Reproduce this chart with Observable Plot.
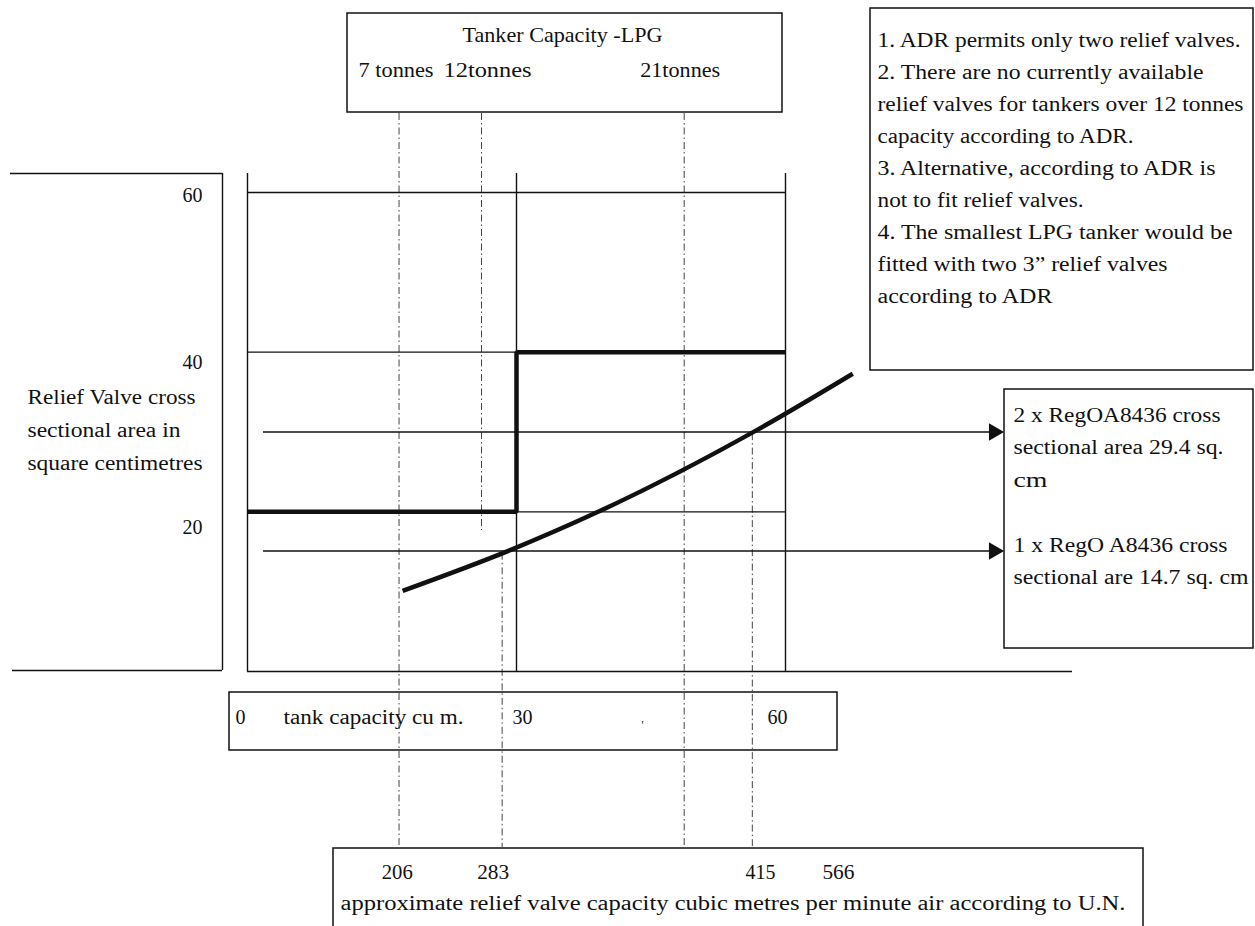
<!DOCTYPE html>
<html><head><meta charset="utf-8">
<script src="https://cdn.jsdelivr.net/npm/d3@7"></script>
<script src="https://cdn.jsdelivr.net/npm/@observablehq/plot@0.6"></script>
<style>
html,body{margin:0;padding:0;background:#fff;}
#chart{width:1255px;height:926px;overflow:hidden;}
</style>
</head><body><div id="chart"></div>
<script>
// ---------------- data ----------------
const areaTicks = [60, 40, 20];                       // sq cm
const capacityTicks = [0, 30, 60];                    // tank capacity cu m
const stepCapacity = [0, 30, 30, 60];                 // permitted valve area step
const stepArea = [20, 20, 40, 40];
const curveCapacity = [17.3, 29.3, 39.1, 56.9, 67.5]; // required area curve
const curveArea = [10.1, 15.2, 20.0, 30.3, 37.3];
const tonnageLabels = ["7 tonnes", "12tonnes", "21tonnes"];
const tonnageCapacity = [16.9, 26.1, 48.7];
const valveLabels = ["206", "283", "415", "566"];
const valveLabelCapacity = [16.7, 27.4, 57.2, 65.9];
const valveLineCapacity = [28.4, 56.3];
const valveLineArea = [14.8, 29.8];
const regoArea = [30.0, 15.1];
const regoText = ["2 x RegOA8436 cross", "sectional area 29.4 sq.", "cm", "", "1 x RegO A8436 cross", "sectional are 14.7 sq. cm"];
const notes = [
  "1. ADR permits only two relief valves.",
  "2. There are no currently available",
  "relief valves for tankers over 12 tonnes",
  "capacity according to ADR.",
  "3. Alternative, according to ADR is",
  "not to fit relief valves.",
  "4. The smallest LPG tanker would be",
  "fitted with two 3\u201D relief valves",
  "according to ADR"
];
const yTitle = ["Relief Valve cross", "sectional area in", "square centimetres"];
const topTitle = "Tanker Capacity -LPG";
const capacityTitle = "tank capacity cu m.";
const bottomTitle = "approximate relief valve capacity cubic metres per minute air according to U.N.";

// ---------------- layout ----------------
const W = 1255, H = 926;
const X0 = 247, X60 = 785, Y0 = 671, Y60 = 192;
const KX = (X60 - X0) / 60, KY = (Y0 - Y60) / 60;
const X = px => (px - X0) / KX;      // page pixel -> capacity units (layout helper)
const Y = py => (Y0 - py) / KY;      // page pixel -> area units (layout helper)
const ink = "#111";
const font = "Liberation Serif";

const boxes = [
  {x1: X(347), x2: X(782), y1: Y(13), y2: Y(112)},
  {x1: X(870), x2: X(1253), y1: Y(8), y2: Y(370)},
  {x1: X(1004), x2: X(1253), y1: Y(389), y2: Y(648)},
  {x1: X(229), x2: X(837), y1: Y(692), y2: Y(750)},
  {x1: X(333), x2: X(1143), y1: Y(848), y2: Y(940)}
];
const leftH = [{y: Y(173), x1: X(10), x2: X(222)}, {y: Y(670), x1: X(12), x2: X(222)}];
const leftV = [{x: X(222), y1: Y(173), y2: Y(670)}];
const tickLabelDy = {60: 3, 40: 10, 20: 16};
const capLabelDx = {0: -7, 30: 6, 60: -8};
const tonnageLabelDx = [-3, 6, -4];
const tonnageBottom = [Y(848), Y(530), Y(848)];

const steps = stepCapacity.map((c, i) => ({c, a: stepArea[i]}));
const curve = curveCapacity.map((c, i) => ({c, a: curveArea[i]}));

const widths = {
  "Tanker Capacity -LPG": 200, "7 tonnes": 75, "12tonnes": 88, "21tonnes": 80,
  "1. ADR permits only two relief valves.": 363,
  "2. There are no currently available": 326,
  "relief valves for tankers over 12 tonnes": 366,
  "capacity according to ADR.": 256,
  "3. Alternative, according to ADR is": 338,
  "not to fit relief valves.": 206,
  "4. The smallest LPG tanker would be": 355,
  "fitted with two 3\u201D relief valves": 290,
  "according to ADR": 175,
  "2 x RegOA8436 cross": 207, "sectional area 29.4 sq.": 210, "cm": 34,
  "1 x RegO A8436 cross": 214, "sectional are 14.7 sq. cm": 235,
  "Relief Valve cross": 168, "sectional area in": 153, "square centimetres": 175,
  "tank capacity cu m.": 180,
  "206": 31, "283": 32, "415": 30, "566": 32,
  "approximate relief valve capacity cubic metres per minute air according to U.N.": 785
};

const dash = {stroke: "#444", strokeWidth: 1, strokeDasharray: "7,3,1.5,3"};
const thin = {stroke: ink, strokeWidth: 1.4};
const txt = {fill: ink, fontFamily: font, fontSize: 20};

const chart = Plot.plot({
  width: W, height: H,
  marginTop: 0, marginRight: 0, marginBottom: 0, marginLeft: 0,
  style: {background: "#fff", fontFamily: font},
  x: {domain: [X(0), X(W)], range: [0, W], axis: null},
  y: {domain: [Y(H), Y(0)], range: [H, 0], axis: null},
  marks: [
    // boxes
    Plot.rect(boxes, {x1: "x1", x2: "x2", y1: "y1", y2: "y2", fill: "none", stroke: ink, strokeWidth: 1.5}),
    Plot.ruleY(leftH, {y: "y", x1: "x1", x2: "x2", ...thin}),
    Plot.ruleX(leftV, {x: "x", y1: "y1", y2: "y2", ...thin}),
    // dashed reference lines
    Plot.ruleX(tonnageCapacity, {x: d => d, y1: Y(113), y2: (d, i) => tonnageBottom[i], ...dash}),
    Plot.ruleX(valveLineCapacity, {x: d => d, y1: (d, i) => valveLineArea[i], y2: Y(848), ...dash}),
    // frame
    Plot.ruleX(capacityTicks, {x: d => d, y1: Y(173), y2: 0, ...thin}),
    Plot.ruleY([60], {y: d => d, x1: 0, x2: 60, ...thin}),
    Plot.ruleY([0], {y: d => d, x1: 0, x2: X(1072), ...thin}),
    Plot.ruleY([40], {y: d => d, x1: 0, x2: 60, ...thin}),
    Plot.ruleY([20], {y: d => d, x1: 30, x2: 60, ...thin}),
    // valve lines with arrows
    Plot.ruleY(regoArea, {y: d => d, x1: X(263), x2: X(992), stroke: ink, strokeWidth: 1.6}),
    Plot.dot(regoArea, {x: X(993.5), y: d => d, symbol: "triangle", rotate: 90, r: 6.5, fill: ink, stroke: "none"}),
    // step of permitted area
    Plot.line(steps, {x: "c", y: "a", stroke: ink, strokeWidth: 4.5, strokeLinejoin: "miter", strokeLinecap: "butt"}),
    // required area curve
    Plot.line(curve, {x: "c", y: "a", curve: "monotone-x", stroke: ink, strokeWidth: 4.5, strokeLinecap: "butt"}),
    // texts
    Plot.text([topTitle], {x: X(562), y: Y(35), ...txt, fontSize: 21}),
    Plot.text(tonnageLabels, {x: (d, i) => tonnageCapacity[i] + tonnageLabelDx[i] / KX, y: Y(70), ...txt}),
    Plot.text(notes, {x: X(877), y: (d, i) => Y(40 + 32 * i), textAnchor: "start", ...txt}),
    Plot.text(regoText, {x: X(1013), y: (d, i) => Y(415 + 32.5 * i), textAnchor: "start", ...txt}),
    Plot.text(yTitle, {x: X(27), y: (d, i) => Y(397 + 33 * i), textAnchor: "start", ...txt}),
    Plot.text(areaTicks, {x: X(202), y: d => d - tickLabelDy[d] / KY, text: d => String(d), textAnchor: "end", ...txt}),
    Plot.text(capacityTicks, {x: d => d + capLabelDx[d] / KX, y: Y(717), text: d => String(d), ...txt}),
    Plot.text([capacityTitle], {x: X(283), y: Y(717), textAnchor: "start", ...txt}),
    Plot.text(["'"], {x: X(642), y: Y(725), ...txt, fontSize: 12}),
    Plot.text(valveLabels, {x: (d, i) => valveLabelCapacity[i], y: Y(872), ...txt}),
    Plot.text([bottomTitle], {x: X(340), y: Y(903), textAnchor: "start", ...txt})
  ]
});

d3.select(chart).selectAll("text").each(function () {
  const w = widths[this.textContent];
  if (w) { this.setAttribute("textLength", w); this.setAttribute("lengthAdjust", "spacingAndGlyphs"); }
});
document.getElementById("chart").appendChild(chart);
</script>
</body></html>
